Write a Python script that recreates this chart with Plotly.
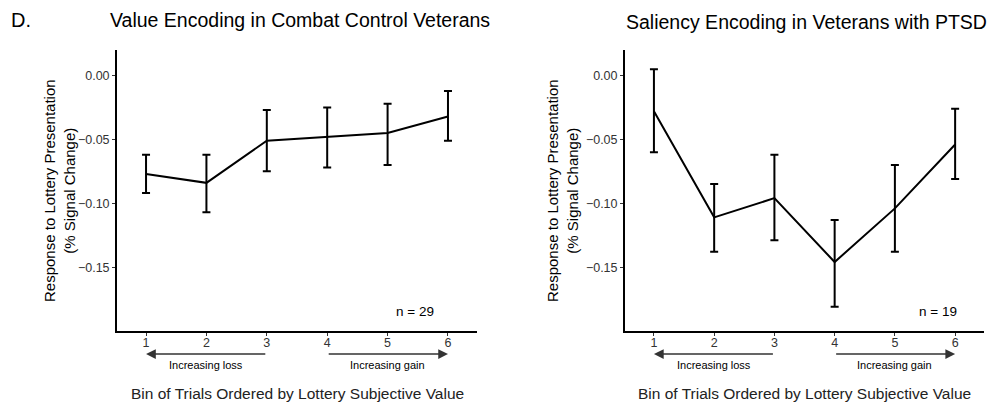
import plotly.graph_objects as go

bins = [1, 2, 3, 4, 5, 6]
tick_labels = ["1", "2", "3", "4", "5", "6"]

left_mean = [-0.077, -0.084, -0.051, -0.048, -0.045, -0.032]
left_upper = [-0.062, -0.062, -0.027, -0.025, -0.022, -0.012]
left_lower = [-0.092, -0.107, -0.075, -0.072, -0.070, -0.051]

right_mean = [-0.028, -0.111, -0.096, -0.146, -0.104, -0.054]
right_upper = [0.005, -0.085, -0.062, -0.113, -0.070, -0.026]
right_lower = [-0.060, -0.138, -0.129, -0.181, -0.138, -0.081]

y_ticks = [0.0, -0.05, -0.10, -0.15]
y_tick_labels = ["0.00", "\u22120.05", "\u22120.10", "\u22120.15"]

left_title = "Value Encoding in Combat Control Veterans"
right_title = "Saliency Encoding in Veterans with PTSD"
y_title = "Response to Lottery Presentation<br>(% Signal Change)"
x_title = "Bin of Trials Ordered by Lottery Subjective Value"
left_n = "n = 29"
right_n = "n = 19"

FONT = "Liberation Sans, Arial, sans-serif"

fig = go.Figure()

def add_series(mean, upper, lower, xa, ya):
    fig.add_trace(go.Scatter(
        x=bins, y=mean, mode="lines", xaxis=xa, yaxis=ya,
        line=dict(color="black", width=2),
        error_y=dict(type="data", symmetric=False,
                     array=[u - m for u, m in zip(upper, mean)],
                     arrayminus=[m - l for m, l in zip(mean, lower)],
                     color="black", thickness=2, width=4),
        showlegend=False, hoverinfo="skip"))

add_series(left_mean, left_upper, left_lower, "x", "y")
add_series(right_mean, right_upper, right_lower, "x2", "y2")

xr = [0.52, 6.48]
yr = [-0.2, 0.02]
ydom = [0.1766, 0.8756]
DOM_H = 281.0  # domain height in px

def dy(px_below_axis):
    return -px_below_axis / DOM_H

axis_common = dict(showgrid=False, zeroline=False, showline=True,
                   linecolor="black", linewidth=2, ticks="outside",
                   ticklen=3, tickcolor="#333", tickwidth=1,
                   tickfont=dict(family=FONT, size=12.5, color="#333"))

fig.update_layout(
    width=997, height=402,
    margin=dict(l=0, r=0, t=0, b=0),
    paper_bgcolor="white", plot_bgcolor="white",
    xaxis=dict(domain=[0.1174, 0.4784], range=xr, tickvals=bins,
               ticktext=tick_labels, anchor="y", ticklabelstandoff=-4,
               **axis_common),
    yaxis=dict(domain=ydom, range=yr, tickvals=y_ticks,
               ticktext=y_tick_labels, anchor="x", **axis_common),
    xaxis2=dict(domain=[0.6269, 0.987], range=xr, tickvals=bins,
                ticktext=tick_labels, anchor="y2", ticklabelstandoff=-4,
                **axis_common),
    yaxis2=dict(domain=ydom, range=yr, tickvals=y_ticks,
                ticktext=y_tick_labels, anchor="x2", **axis_common),
)

ann = []
ann.append(dict(text="D.", xref="paper", yref="paper", x=9 / 997, y=1 - 20 / 402,
                xanchor="left", yanchor="middle", showarrow=False,
                font=dict(family=FONT, size=20, color="black")))
ann.append(dict(text=left_title, xref="paper", yref="paper", x=300 / 997, y=1 - 20 / 402,
                xanchor="center", yanchor="middle", showarrow=False,
                font=dict(family=FONT, size=19.5, color="black")))
ann.append(dict(text=right_title, xref="paper", yref="paper", x=806 / 997, y=1 - 22 / 402,
                xanchor="center", yanchor="middle", showarrow=False,
                font=dict(family=FONT, size=19.5, color="black")))

for xa, ya, yx, nx, ntext in [("x", "y", 59 / 997, 5.45, left_n),
                             ("x2", "y2", 562 / 997, 5.72, right_n)]:
    yd = ya + " domain"
    ann.append(dict(text=y_title, xref="paper", yref="paper", x=yx, y=1 - 191 / 402,
                    xanchor="center", yanchor="middle", textangle=-90, showarrow=False,
                    font=dict(family=FONT, size=15, color="black")))
    ann.append(dict(text=ntext, xref=xa, yref=ya, x=nx, y=-0.185,
                    xanchor="center", yanchor="middle", showarrow=False,
                    font=dict(family=FONT, size=13.5, color="black")))
    ann.append(dict(text="", xref=xa, yref=yd, axref=xa, ayref=yd,
                    x=1, y=dy(23), ax=3, ay=dy(23), showarrow=True,
                    arrowhead=2, arrowsize=1.3, arrowwidth=1.5, arrowcolor="#333"))
    ann.append(dict(text="", xref=xa, yref=yd, axref=xa, ayref=yd,
                    x=6, y=dy(23), ax=4, ay=dy(23), showarrow=True,
                    arrowhead=2, arrowsize=1.3, arrowwidth=1.5, arrowcolor="#333"))
    ann.append(dict(text="Increasing loss", xref=xa, yref=yd, x=2, y=dy(34),
                    xanchor="center", yanchor="middle", showarrow=False,
                    font=dict(family=FONT, size=11, color="black")))
    ann.append(dict(text="Increasing gain", xref=xa, yref=yd, x=5, y=dy(34),
                    xanchor="center", yanchor="middle", showarrow=False,
                    font=dict(family=FONT, size=11, color="black")))
    ann.append(dict(text=x_title, xref=xa, yref=yd, x=3.5, y=dy(62),
                    xanchor="center", yanchor="middle", showarrow=False,
                    font=dict(family=FONT, size=15.5, color="#222")))

fig.update_layout(annotations=ann)

fig.write_html("out.html")
